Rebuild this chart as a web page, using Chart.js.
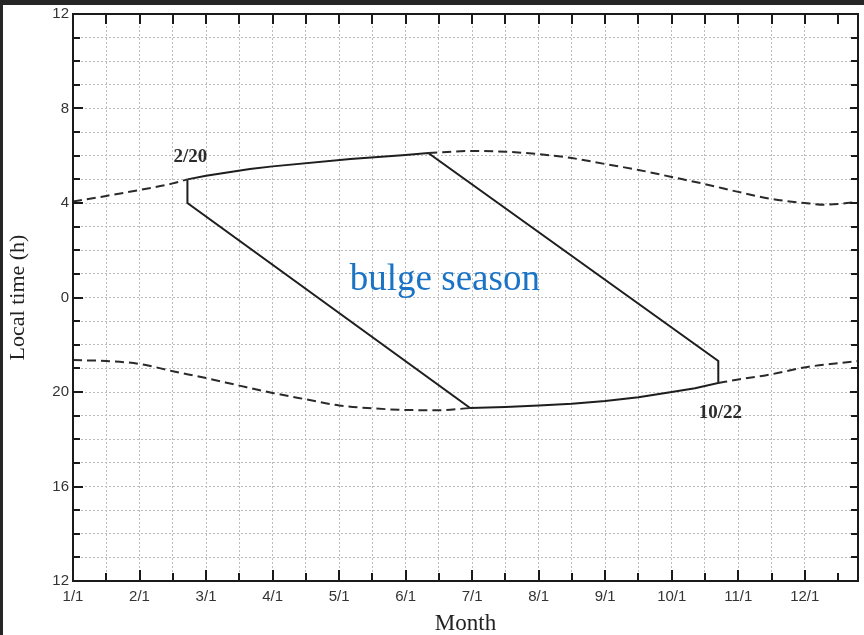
<!DOCTYPE html>
<html><head><meta charset="utf-8">
<script src="https://cdn.jsdelivr.net/npm/chart.js@4/dist/chart.umd.min.js"></script>
<style>html,body{margin:0;padding:0;background:#fff;}canvas{display:block;}</style>
</head><body>
<canvas id="c" width="864" height="635"></canvas>
<script>
// ---- tick labels ----
const monthLabels = ['1/1','2/1','3/1','4/1','5/1','6/1','7/1','8/1','9/1','10/1','11/1','12/1'];
const yTickValues = [12, 8, 4, 0, -4, -8, -12];
const yTickLabels = ['12','8','4','0','20','16','12'];

// ---- dashed envelope curves (x: months since 1/1, y: local time, negative = hours before midnight) ----
const upperLeftX  = [0, 0.5, 1.0, 1.5, 1.72];
const upperLeftY  = [4.06, 4.3, 4.55, 4.83, 5.0];
const upperRightX = [5.34, 6.0, 6.5, 7.0, 7.5, 8.0, 8.5, 9.0, 9.5, 10.0, 10.5, 11.0, 11.3, 11.8];
const upperRightY = [6.12, 6.2, 6.17, 6.07, 5.9, 5.65, 5.4, 5.1, 4.8, 4.47, 4.17, 4.0, 3.93, 4.04];
const lowerLeftX  = [0, 0.5, 1.0, 1.5, 2.0, 2.5, 3.0, 3.5, 4.0, 4.5, 5.0, 5.5, 5.97];
const lowerLeftY  = [-2.65, -2.69, -2.81, -3.12, -3.41, -3.73, -4.04, -4.31, -4.57, -4.69, -4.76, -4.77, -4.68];
const lowerRightX = [9.70, 10.0, 10.44, 11.04, 11.5, 11.8];
const lowerRightY = [-3.62, -3.47, -3.28, -2.94, -2.78, -2.69];

// ---- bulge season boundary ----
const bulgeTopX    = [1.72, 2.0, 2.66, 3.0, 4.17, 5.0, 5.34];
const bulgeTopY    = [5.0, 5.15, 5.44, 5.55, 5.86, 6.03, 6.12];
const bulgeBottomX = [5.97, 6.5, 7.0, 7.5, 8.0, 8.5, 9.0, 9.35, 9.70];
const bulgeBottomY = [-4.68, -4.63, -4.57, -4.5, -4.38, -4.22, -4.0, -3.84, -3.62];
const bulgeStartX = 1.72, bulgeStartLowY = 4.0;   // 2/20
const bulgeEndX = 9.70, bulgeEndHighY = -2.69;    // 10/22

const xMax = 11.8;

const pts = (xs, ys) => xs.map((v, i) => ({x: v, y: ys[i]}));
const polygon = [
  ...pts(bulgeTopX, bulgeTopY),
  {x: bulgeEndX, y: bulgeEndHighY},
  ...pts(bulgeBottomX, bulgeBottomY).reverse(),
  {x: bulgeStartX, y: bulgeStartLowY},
  {x: bulgeTopX[0], y: bulgeTopY[0]}
];

const dashStyle = {borderColor:'#2a2a2a', borderWidth:2, borderDash:[9,5], pointRadius:0, tension:0.4, cubicInterpolationMode:'monotone', fill:false};

const decor = {
  id: 'decor',
  beforeDraw(chart) {
    const ctx = chart.ctx; ctx.save(); ctx.fillStyle = '#fff'; ctx.fillRect(0, 0, chart.width, chart.height); ctx.restore();
  },
  afterDatasetsDraw(chart) {
    const {ctx, scales: {x, y}} = chart;
    ctx.save();
    ctx.fillStyle = '#2b2b2b';
    ctx.textAlign = 'center'; ctx.textBaseline = 'middle';
    ctx.font = 'bold 19px "Liberation Serif"';
    ctx.fillText('2/20', x.getPixelForValue(bulgeStartX) + 3, y.getPixelForValue(bulgeTopY[0]) - 22);
    ctx.fillText('10/22', x.getPixelForValue(bulgeEndX) + 2, y.getPixelForValue(bulgeBottomY[bulgeBottomY.length - 1]) + 30);
    ctx.fillStyle = '#1a73c4';
    ctx.font = '37px "Liberation Serif"';
    ctx.fillText('bulge season', x.getPixelForValue(5.59), y.getPixelForValue(0.74));
    ctx.restore();
  },
  afterDraw(chart) {
    const {ctx, chartArea: a, scales: {x, y}} = chart;
    ctx.save();
    ctx.strokeStyle = '#1a1a1a';
    ctx.lineWidth = 2;
    ctx.strokeRect(a.left, a.top, a.right - a.left, a.bottom - a.top);
    ctx.beginPath();
    for (let v = 0.5; v < xMax; v += 0.5) {
      const px = Math.round(x.getPixelForValue(v));
      const major = Number.isInteger(v);
      ctx.moveTo(px, a.bottom); ctx.lineTo(px, a.bottom - (major ? 11 : 8));
      ctx.moveTo(px, a.top); ctx.lineTo(px, a.top + 10);
    }
    for (let v = -11; v < 12; v++) {
      const py = Math.round(y.getPixelForValue(v));
      const major = v % 4 === 0;
      ctx.moveTo(a.left, py); ctx.lineTo(a.left + (major ? 10 : 7), py);
      ctx.moveTo(a.right, py); ctx.lineTo(a.right - (major ? 8 : 7), py);
    }
    ctx.stroke();
    ctx.fillStyle = '#262626';
    ctx.fillRect(0, 0, chart.width, 5);
    ctx.fillRect(0, 0, 3, chart.height);
    ctx.restore();
  }
};

new Chart(document.getElementById('c'), {
  type: 'line',
  data: {
    datasets: [
      {data: pts(upperLeftX, upperLeftY), ...dashStyle},
      {data: pts(upperRightX, upperRightY), ...dashStyle},
      {data: pts(lowerLeftX, lowerLeftY), ...dashStyle},
      {data: pts(lowerRightX, lowerRightY), ...dashStyle},
      {data: polygon, borderColor:'#1e1e1e', borderWidth:2, pointRadius:0, tension:0, fill:false}
    ]
  },
  options: {
    responsive: false,
    animation: false,
    events: [],
    layout: {padding: {top: 14, right: 6, left: 0, bottom: 0}},
    plugins: {legend: {display: false}, tooltip: {enabled: false}, title: {display: false}},
    scales: {
      x: {
        type: 'linear', min: 0, max: xMax,
        afterBuildTicks(s) { s.ticks = s.ticks.filter(t => Math.abs(t.value * 2 - Math.round(t.value * 2)) < 1e-6); },
        afterFit(s) { s.height = 54; },
        ticks: {
          stepSize: 0.5, autoSkip: false, maxRotation: 0, padding: 7, color: '#333',
          font: {family: '"Liberation Sans"', size: 15},
          callback: v => Number.isInteger(v) && monthLabels[v] !== undefined ? monthLabels[v] : ''
        },
        grid: {color: '#bcbcbc', lineWidth: 1, drawTicks: false},
        border: {display: false, dash: [2, 2]},
        title: {display: true, text: 'Month', color: '#222', font: {family: '"Liberation Serif"', size: 23, lineHeight: 1}, padding: {top: 0, bottom: 0}}
      },
      y: {
        type: 'linear', min: -12, max: 12,
        afterFit(s) { s.width = 73; },
        ticks: {
          stepSize: 1, autoSkip: false, padding: 4, color: '#333',
          font: {family: '"Liberation Sans"', size: 15},
          callback: v => { const i = yTickValues.indexOf(v); return i >= 0 ? yTickLabels[i] : ''; }
        },
        grid: {color: '#bcbcbc', lineWidth: 1, drawTicks: false},
        border: {display: false, dash: [2, 2]},
        title: {display: true, text: 'Local time (h)', color: '#222', font: {family: '"Liberation Serif"', size: 22, lineHeight: 1}, padding: {top: 7, bottom: 0}}
      }
    }
  },
  plugins: [decor]
});
</script>
</body></html>
